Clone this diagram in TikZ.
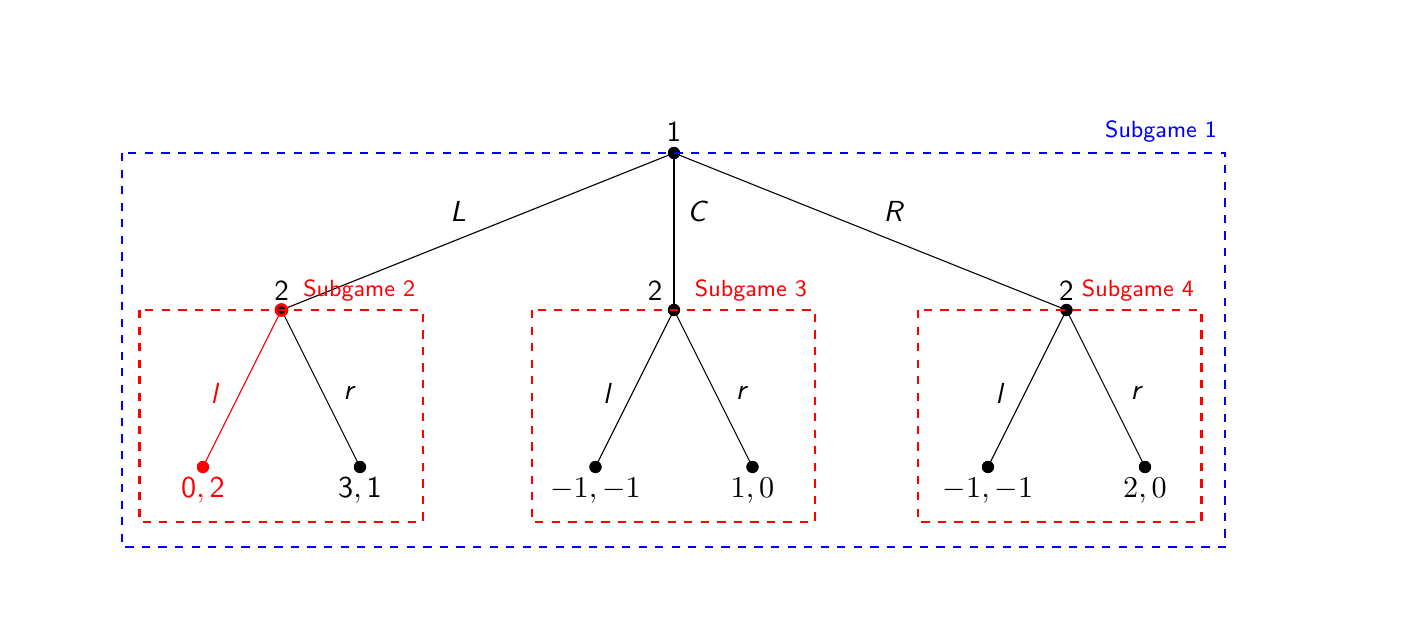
\documentclass[tikz,border=0pt]{standalone}
\begin{document}
\begin{tikzpicture}[x=1cm,y=1cm,
  dot/.style={circle,fill=black,inner sep=0pt,minimum size=4.4pt},
  reddot/.style={circle,fill=red,inner sep=0pt,minimum size=4.4pt},
  edge/.style={line width=0.4pt},
  lbl/.style={font=\sffamily\fontsize{10.5}{12}\selectfont},
  elbl/.style={font=\sffamily\itshape\fontsize{10.5}{12}\selectfont},
  pay/.style={font=\fontsize{10.5}{12}\selectfont},
  sg/.style={font=\sffamily\fontsize{8.5}{10}\selectfont},
  sgbox/.style={dashed,line width=0.8pt}]
\useasboundingbox (-8.586,-6.076) rectangle (9.478,1.949);
% nodes
\node[dot] (r) at (0,0) {};
\node[dot] (a) at (-5,-2) {};
\node[dot] (b) at (0,-2) {};
\node[dot] (c) at (5,-2) {};
\node[reddot] (a1) at (-6,-4) {};
\node[dot] (a2) at (-4,-4) {};
\node[dot] (b1) at (-1,-4) {};
\node[dot] (b2) at (1,-4) {};
\node[dot] (c1) at (4,-4) {};
\node[dot] (c2) at (6,-4) {};
% edges
\draw[edge] (r.center) -- (a.center);
\draw[edge] (r.center) -- (b.center);
\draw[edge] (r.center) -- (c.center);
\draw[edge,red] (a.center) -- (a1.center);
\draw[edge] (a.center) -- (a2.center);
\draw[edge] (b.center) -- (b1.center);
\draw[edge] (b.center) -- (b2.center);
\draw[edge] (c.center) -- (c1.center);
\draw[edge] (c.center) -- (c2.center);
% redraw dots on top
\node[dot] at (r) {};
\node[reddot,minimum size=5pt] (ar) at (a) {};
\node[dot,minimum size=2.8pt] at (a) {};
\node[dot] at (b) {};
\node[dot] at (c) {};
\node[reddot] at (a1) {};
\node[dot] at (a2) {};
\node[dot] at (b1) {};
\node[dot] at (b2) {};
\node[dot] at (c1) {};
\node[dot] at (c2) {};
% player labels
\node[lbl] (p1) at (0,0.27) {1};
\node[lbl] (p2a) at (-5,-1.75) {2};
\node[lbl] (p2b) at (-0.24,-1.75) {2};
\node[lbl] (p2c) at (5,-1.75) {2};
% edge labels
\node[elbl] (eL) at (-2.75,-0.75) {L};
\node[elbl] (eC) at (0.29,-0.75) {C};
\node[elbl] (eR) at (2.79,-0.75) {R};
\node[elbl,red] (al) at (-5.86,-3.06) {l};
\node[elbl] (ar2) at (-4.15,-3.06) {r};
\node[elbl] (bl) at (-0.86,-3.06) {l};
\node[elbl] (br) at (0.85,-3.06) {r};
\node[elbl] (cl) at (4.14,-3.06) {l};
\node[elbl] (cr) at (5.88,-3.06) {r};
% payoffs
\node[pay,red] (pa1) at (-6,-4.3) {$\mathsf{0,2}$};
\node[pay] (pa2) at (-4,-4.3) {$\mathsf{3,1}$};
\node[pay] (pb1) at (-1,-4.3) {$-1,-1$};
\node[pay] (pb2) at (1,-4.3) {$1,0$};
\node[pay] (pc1) at (4,-4.3) {$-1,-1$};
\node[pay] (pc2) at (6,-4.3) {$2,0$};
% subgame boxes
\draw[sgbox,blue] (-7.03,0) rectangle (7.02,-5.02);
\draw[sgbox,red] (-6.81,-2) rectangle (-3.2,-4.7);
\draw[sgbox,red] (-1.81,-2) rectangle (1.80,-4.7);
\draw[sgbox,red] (3.11,-2) rectangle (6.72,-4.7);
\node[sg,blue] (s1) at (6.205,0.27) {Subgame 1};
\node[sg,red] (s2) at (-4.01,-1.75) {Subgame 2};
\node[sg,red] (s3) at (0.98,-1.75) {Subgame 3};
\node[sg,red] (s4) at (5.91,-1.75) {Subgame 4};
\end{tikzpicture}
\end{document}
